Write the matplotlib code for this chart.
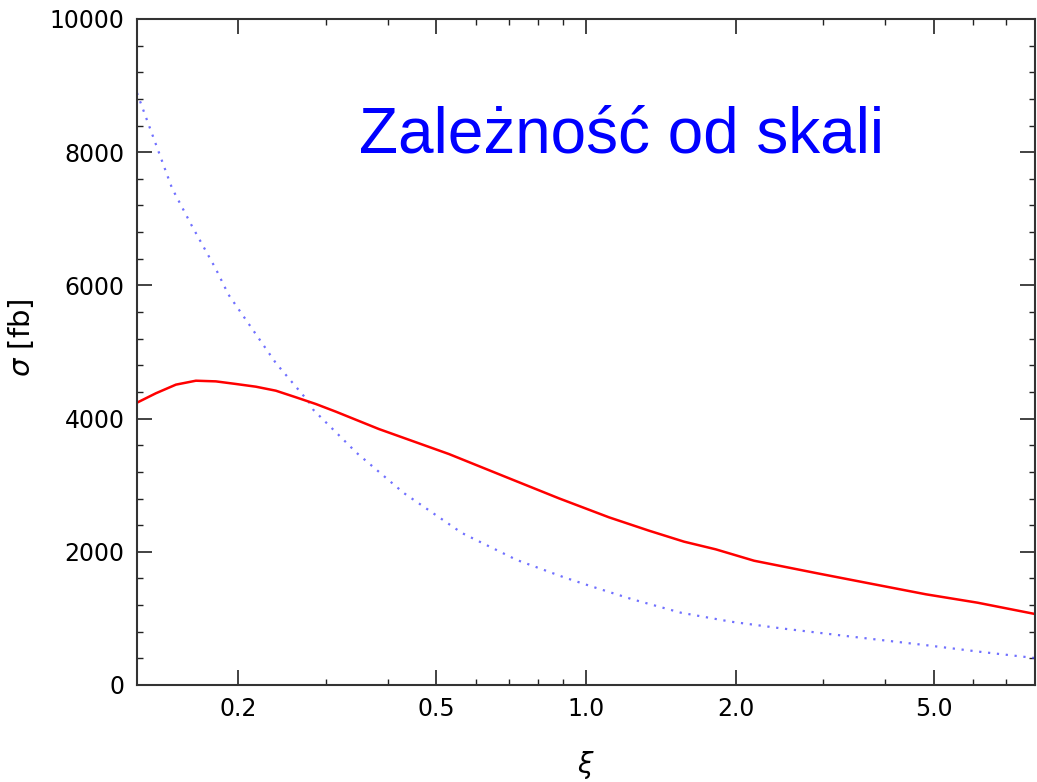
import numpy as np
import matplotlib
matplotlib.use("Agg")
import matplotlib.pyplot as plt
from matplotlib.ticker import FixedLocator, FixedFormatter

# scale factor xi and cross sections [fb]
xi_red = [0.125, 0.1364, 0.1497, 0.1642, 0.1801, 0.1976, 0.2168, 0.2378,
          0.2609, 0.2862, 0.314, 0.383, 0.530, 0.690, 0.882, 1.112, 1.339,
          1.575, 1.824, 2.178, 2.920, 3.767, 4.826, 6.13, 8.0]
sig_red = [4239, 4380, 4510, 4569, 4559, 4520, 4479, 4419,
           4320, 4219, 4104, 3844, 3468, 3123, 2803, 2518, 2317,
           2152, 2037, 1866, 1677, 1517, 1362, 1236, 1066]

xi_blue = [0.125, 0.147, 0.161, 0.180, 0.191, 0.238, 0.277, 0.283, 0.346,
           0.430, 0.563, 0.726, 0.903, 1.03, 1.239, 1.551, 1.955, 2.467,
           2.85, 3.43, 3.76, 4.79, 6.26, 8.0]
sig_blue = [8890, 7460, 6900, 6250, 5860, 4830, 4250, 4130, 3483,
            2883, 2282, 1877, 1617, 1476, 1287, 1086, 951, 851,
            796, 725, 691, 601, 495, 405]

xmaj = [0.2, 0.5, 1.0, 2.0, 5.0]
xmaj_labels = ["0.2", "0.5", "1.0", "2.0", "5.0"]
xmin_ticks = [0.3, 0.4, 0.6, 0.7, 0.8, 0.9, 3, 4, 6, 7]
ymaj = [0, 2000, 4000, 6000, 8000, 10000]

fig = plt.figure(figsize=(10.37, 7.82), dpi=100)
ax = fig.add_axes([137/1037, 1-685/782, 898/1037, 666/782])

ax.plot(xi_blue, sig_blue, color=(0.25, 0.25, 1.0), alpha=0.75, lw=1.6,
        linestyle=(0, (1, 3)))
ax.plot(xi_red, sig_red, color="red", lw=1.8)

ax.set_xscale("log")
ax.set_xlim(0.125, 8.0)
ax.set_ylim(0, 10000)

ax.xaxis.set_major_locator(FixedLocator(xmaj))
ax.xaxis.set_major_formatter(FixedFormatter(xmaj_labels))
ax.xaxis.set_minor_locator(FixedLocator(xmin_ticks))
ax.xaxis.set_minor_formatter(FixedFormatter([]))
ax.set_yticks(ymaj)
ax.set_yticks(np.arange(0, 10001, 400), minor=True)

ax.tick_params(which="both", direction="in", top=True, right=True,
               colors="#222222", labelcolor="black", labelsize=17)
ax.tick_params(which="major", length=11, width=1.2, pad=9)
ax.tick_params(which="minor", length=4, width=1.0)
for s in ax.spines.values():
    s.set_linewidth(1.5)
    s.set_color("#333333")

ax.set_ylabel(r"$\sigma$ [fb]", fontsize=21)
ax.yaxis.set_label_coords(-0.112, 0.521)
ax.set_xlabel(r"$\xi$", fontsize=20)
ax.xaxis.set_label_coords(0.5, -0.096)

fig.text(359/1037, 1-152.5/782, "Zależność od skali", color=(0, 0, 1.0),
         fontsize=46, family="Liberation Sans", va="baseline", ha="left")

fig.savefig("out.png", dpi=100)
